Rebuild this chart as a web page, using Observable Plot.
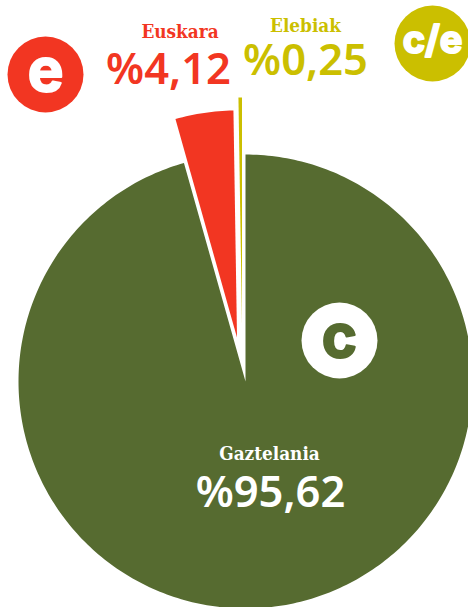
<!DOCTYPE html>
<html>
<head>
<meta charset="utf-8">
<script src="https://cdn.jsdelivr.net/npm/d3@7"></script>
<script src="https://cdn.jsdelivr.net/npm/@observablehq/plot@0.6"></script>
<style>
html,body{margin:0;padding:0;background:#fff;overflow:hidden}
svg{display:block}
</style>
</head>
<body>
<div id="chart"></div>
<script>
const categories = ["Gaztelania", "Euskara", "Elebiak"];
const shares = [95.62, 4.12, 0.25];
const shareLabels = ["%95,62", "%4,12", "%0,25"];
const colors = ["#566b30", "#f23622", "#cbbf00"];
const badges = ["c", "e", "c/e"];

// layout (pixel units of the identity x/y scales)
const cx = 245, cy = 381, radius = 227;
const explodeDx = [0, -8.5, -3.5];
const explodeDy = [0, -44, -57];
const nameX = [269, 179.5, 305], nameY = [459, 37, 31];
const valueX = [270, 168, 305], valueY = [506, 83, 74];
const badgeX = [339, 45, 432], badgeY = [340, 74, 43];
const badgeColor = ["#fff", "#f23622", "#cbbf00"];
const badgeText = ["#566b30", "#fff", "#fff"];

// Clockwise from 12 o'clock: Gaztelania first, then the two pulled slices
const total = d3.sum(shares);
let a = 0;
const polys = [];
shares.forEach((v, i) => {
  const a0 = a, a1 = a + v / total * 2 * Math.PI;
  a = a1;
  const steps = Math.max(2, Math.ceil((a1 - a0) * 60));
  const ox = cx + explodeDx[i], oy = cy + explodeDy[i];
  polys.push({i, x: ox, y: oy});
  d3.range(steps + 1).forEach(s => {
    const t = a0 + (a1 - a0) * s / steps;
    polys.push({i, x: ox + radius * Math.sin(t), y: oy - radius * Math.cos(t)});
  });
  polys.push({i, x: ox, y: oy});
});

const idx = d3.range(categories.length);
const nameFont = "'DejaVu Serif Condensed', 'DejaVu Serif', serif";
const valueFont = "'Noto Sans', sans-serif";

const plot = Plot.plot({
  width: 468, height: 607, margin: 0,
  style: {background: "#fff", overflow: "hidden"},
  x: {domain: [0, 468], range: [0, 468], axis: null},
  y: {domain: [0, 607], range: [0, 607], axis: null},
  marks: [
    Plot.line(polys, {x: "x", y: "y", z: "i", curve: "linear",
      fill: d => colors[d.i], stroke: "none"}),
    Plot.dot(idx, {x: i => badgeX[i], y: i => badgeY[i], r: 38, fill: i => badgeColor[i], stroke: "none"}),
    Plot.text(idx, {x: i => badgeX[i], y: i => badgeY[i], text: i => badges[i], fill: i => badgeText[i],
      stroke: i => badgeText[i], strokeWidth: 2, strokeLinejoin: "round",
      fontFamily: "Inter, sans-serif", fontWeight: 700, fontSize: i => i === 2 ? 38 : 60, lineAnchor: "middle", dy: -3}),
    Plot.text(idx, {x: i => nameX[i], y: i => nameY[i], text: i => categories[i], fill: (i) => i === 0 ? "#fff" : colors[i],
      fontFamily: nameFont, fontWeight: 700, fontSize: 18.8, lineAnchor: "bottom"}),
    Plot.text(idx, {x: i => valueX[i], y: i => valueY[i], text: i => shareLabels[i], fill: (i) => i === 0 ? "#fff" : colors[i],
      fontFamily: valueFont, fontWeight: 600, fontSize: 43.5, lineAnchor: "bottom"})
  ]
});
document.getElementById("chart").append(plot);
</script>
</body>
</html>
